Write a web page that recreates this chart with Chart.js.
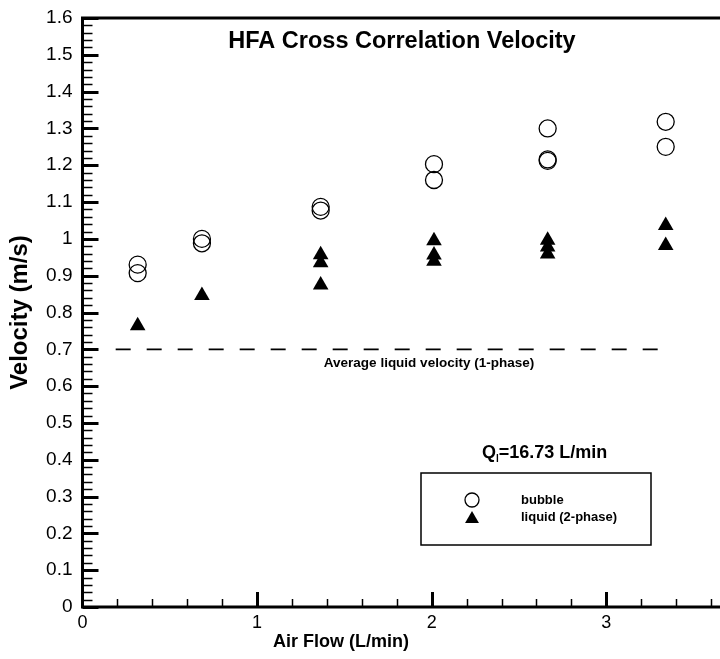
<!DOCTYPE html>
<html>
<head>
<meta charset="utf-8">
<script src="https://cdn.jsdelivr.net/npm/chart.js@4.4.1/dist/chart.umd.min.js"></script>
<style>
  html, body { margin: 0; padding: 0; background: #fff; }
  canvas { display: block; }
</style>
</head>
<body>
<canvas id="chart" width="720" height="659"></canvas>
<script>
// Measured cross-correlation velocities (m/s) versus air flow (L/min)
const airFlowBubble   = [0.316, 0.316, 0.684, 0.684, 1.364, 1.364, 2.013, 2.013, 2.664, 2.664, 2.664, 3.340, 3.340];
const velocityBubble  = [0.930, 0.907, 1.000, 0.988, 1.087, 1.077, 1.203, 1.160, 1.300, 1.216, 1.212, 1.318, 1.250];
const airFlowLiquid   = [0.316, 0.684, 1.364, 1.364, 1.364, 2.013, 2.013, 2.013, 2.664, 2.664, 2.664, 3.340, 3.340];
const velocityLiquid  = [0.764, 0.846, 0.957, 0.935, 0.875, 0.995, 0.956, 0.939, 0.996, 0.978, 0.959, 1.036, 0.982];

// Single-phase reference line
const avgLiquidAirFlow  = [0.19, 3.36];
const avgLiquidVelocity = 0.7;

// Axis tick labels
const xTickLabels = ['0', '1', '2', '3'];
const yTickLabels = ['0', '0.1', '0.2', '0.3', '0.4', '0.5', '0.6', '0.7', '0.8',
                     '0.9', '1', '1.1', '1.2', '1.3', '1.4', '1.5', '1.6'];

const seriesNames = ['bubble', 'liquid (2-phase)'];
const chartTitle = 'HFA Cross Correlation Velocity';
const xTitle = 'Air Flow (L/min)';
const yTitle = 'Velocity (m/s)';
const avgLineLabel = 'Average liquid velocity (1-phase)';
const flowLabel = { main: 'Q', sub: 'l', rest: '=16.73 L/min' };

const FONT = '"Liberation Sans", Arial, Helvetica, sans-serif';

const toPoints = (xs, ys) => xs.map((x, i) => ({ x, y: ys[i] }));

// Frame, inward tick marks and in-plot annotations
const decorations = {
  id: 'decorations',
  afterDraw(chart) {
    const { ctx, chartArea: a, scales: { x, y } } = chart;
    ctx.save();
    ctx.strokeStyle = '#000';
    ctx.fillStyle = '#000';
    ctx.lineCap = 'butt';

    // y ticks: major every 0.1, minor every 0.02
    for (let i = 0; i <= 80; i++) {
      const py = Math.round(y.getPixelForValue(i * 0.02)) + 0.5;
      const major = i % 5 === 0;
      ctx.lineWidth = major ? 3 : 1.5;
      ctx.beginPath();
      ctx.moveTo(a.left, py);
      ctx.lineTo(a.left + (major ? 16 : 10), py);
      ctx.stroke();
    }
    // x ticks: major every 1, minor every 0.2
    for (let i = 1; i * 0.2 <= x.max + 1e-9; i++) {
      const px = Math.round(x.getPixelForValue(i * 0.2)) + 0.5;
      const major = i % 5 === 0;
      ctx.lineWidth = major ? 3 : 1.5;
      ctx.beginPath();
      ctx.moveTo(px, a.bottom);
      ctx.lineTo(px, a.bottom - (major ? 15 : 8));
      ctx.stroke();
    }

    // frame: left, bottom, top
    ctx.lineWidth = 3;
    ctx.beginPath();
    ctx.moveTo(a.left, a.top);
    ctx.lineTo(a.left, a.bottom);
    ctx.moveTo(a.left - 1.5, a.bottom);
    ctx.lineTo(a.right, a.bottom);
    ctx.moveTo(a.left - 1.5, a.top);
    ctx.lineTo(a.right, a.top);
    ctx.stroke();

    // chart title
    ctx.textAlign = 'center';
    ctx.textBaseline = 'middle';
    ctx.font = 'bold 23.5px ' + FONT;
    ctx.fillText(chartTitle, 402, 42);

    // x axis title
    ctx.font = 'bold 18px ' + FONT;
    ctx.fillText(xTitle, 341, 642);

    // reference line caption
    ctx.font = 'bold 13.5px ' + FONT;
    ctx.fillText(avgLineLabel, 429, y.getPixelForValue(avgLiquidVelocity) + 14);

    // flow rate label with subscript
    ctx.textAlign = 'left';
    ctx.font = 'bold 18px ' + FONT;
    let fx = 482;
    const fy = 453;
    ctx.fillText(flowLabel.main, fx, fy);
    fx += ctx.measureText(flowLabel.main).width;
    ctx.font = 'bold 10px ' + FONT;
    ctx.fillText(flowLabel.sub, fx, fy + 6);
    fx += ctx.measureText(flowLabel.sub).width;
    ctx.font = 'bold 18px ' + FONT;
    ctx.fillText(flowLabel.rest, fx, fy);

    // legend box
    ctx.lineWidth = 1.5;
    ctx.strokeRect(421, 473, 230, 72);
    const ds = chart.data.datasets;
    const rowY = [500, 517];
    // open circle
    ctx.lineWidth = ds[0].borderWidth;
    ctx.fillStyle = 'rgba(0,0,0,0)';
    Chart.helpers.drawPoint(ctx, { pointStyle: 'circle', radius: 7, rotation: 0, borderWidth: ds[0].borderWidth }, 472, rowY[0]);
    // filled triangle
    ctx.fillStyle = '#000';
    Chart.helpers.drawPoint(ctx, { pointStyle: 'triangle', radius: 8, rotation: 0, borderWidth: 0 }, 472, rowY[1] + 2);
    ctx.font = 'bold 13px ' + FONT;
    ctx.textAlign = 'left';
    ctx.fillText(seriesNames[0], 521, rowY[0]);
    ctx.fillText(seriesNames[1], 521, rowY[1]);
    ctx.restore();
  }
};

new Chart(document.getElementById('chart'), {
  type: 'scatter',
  data: {
    datasets: [
      {
        label: seriesNames[0],
        data: toPoints(airFlowBubble, velocityBubble),
        pointStyle: 'circle',
        pointRadius: 8.5,
        borderWidth: 1.3,
        borderColor: '#000',
        backgroundColor: 'rgba(0,0,0,0)'
      },
      {
        label: seriesNames[1],
        data: toPoints(airFlowLiquid, velocityLiquid),
        pointStyle: 'triangle',
        pointRadius: 9,
        borderWidth: 0,
        borderColor: '#000',
        backgroundColor: '#000'
      },
      {
        type: 'line',
        label: avgLineLabel,
        data: avgLiquidAirFlow.map(x => ({ x, y: avgLiquidVelocity })),
        borderColor: '#000',
        borderWidth: 1.8,
        borderDash: [15, 16],
        pointRadius: 0,
        fill: false
      }
    ]
  },
  options: {
    responsive: false,
    animation: false,
    devicePixelRatio: 1,
    layout: { autoPadding: false, padding: { top: 18, right: 0, bottom: 0, left: 0 } },
    plugins: {
      legend: { display: false },
      tooltip: { enabled: false }
    },
    scales: {
      x: {
        type: 'linear',
        min: 0,
        max: 3.651,
        afterBuildTicks(s) { s.ticks = xTickLabels.map(t => ({ value: parseFloat(t) })); },
        afterFit(s) { s.height = 52; s.paddingLeft = 0; s.paddingRight = 0; },
        grid: { display: false, drawTicks: false },
        border: { display: false },
        ticks: {
          color: '#000',
          padding: 5,
          maxRotation: 0,
          autoSkip: false,
          font: { family: FONT, size: 18 },
          callback: (v, i) => xTickLabels[i]
        }
      },
      y: {
        type: 'linear',
        min: 0,
        max: 1.6,
        afterBuildTicks(s) { s.ticks = yTickLabels.map(t => ({ value: parseFloat(t) })); },
        afterFit(s) { s.width = 82.5; s.paddingTop = 0; s.paddingBottom = 0; },
        grid: { display: false, drawTicks: false },
        border: { display: false },
        ticks: {
          color: '#000',
          padding: 10,
          autoSkip: false,
          font: { family: FONT, size: 19 },
          callback: (v, i) => yTickLabels[i]
        },
        title: {
          display: true,
          text: yTitle,
          color: '#000',
          font: { family: FONT, size: 24, weight: 'bold' },
          padding: { top: 6, bottom: 0 }
        }
      }
    }
  },
  plugins: [decorations]
});
</script>
</body>
</html>
